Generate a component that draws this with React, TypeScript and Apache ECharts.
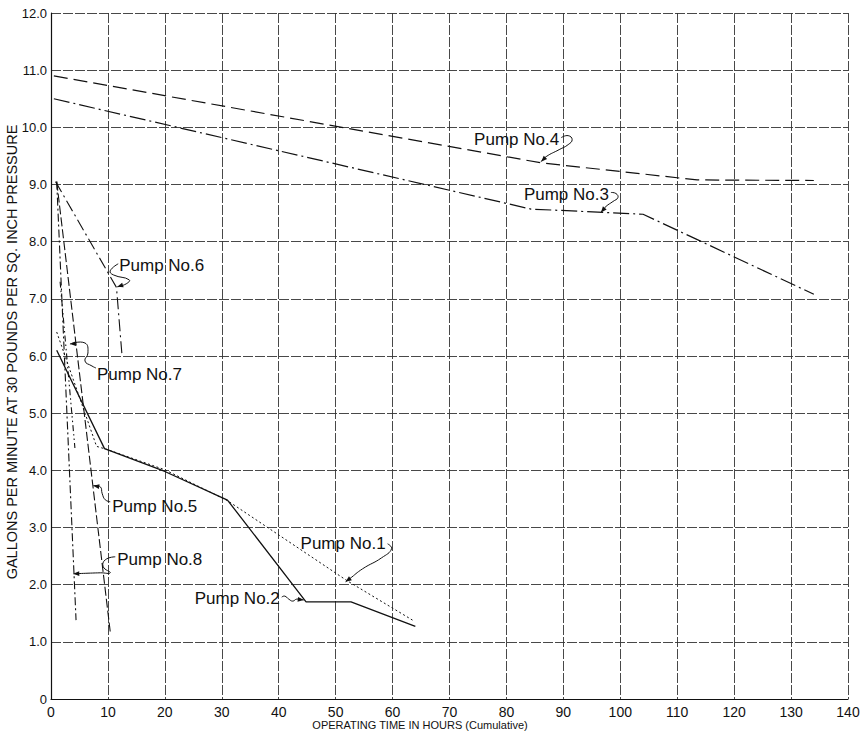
import React, { useEffect, useRef } from 'react';
import * as echarts from 'echarts';

// ---- data (hours, gallons per minute) ----
const pump1: [number, number][] = [[1.0, 6.42], [8.0, 4.42], [10, 4.36], [20, 4.01], [31, 3.47], [52, 2.07], [63.5, 1.38]];
const pump2: [number, number][] = [[1.0, 6.1], [9.4, 4.38], [20, 3.98], [31, 3.48], [44.8, 1.7], [52.7, 1.7], [64, 1.27]];
const pump3: [number, number][] = [[0.5, 10.5], [84.3, 8.57], [104, 8.48], [134, 7.08]];
const pump4: [number, number][] = [[0.5, 10.9], [86, 9.38], [113.5, 9.08], [134, 9.07]];
const pump5: [number, number][] = [[1.0, 9.05], [10.4, 1.18]];
const pump6: [number, number][] = [[0.8, 9.05], [11.5, 7.2], [12.5, 5.98]];
const pump7: [number, number][] = [[1.6, 7.3], [4.2, 4.39]];
const pump8: [number, number][] = [[1.0, 9.05], [4.4, 1.38]];

const xTickLabels = ['0', '10', '20', '30', '40', '50', '60', '70', '80', '90', '100', '110', '120', '130', '140'];
const yTickLabels = ['0', '1.0', '2.0', '3.0', '4.0', '5.0', '6.0', '7.0', '8.0', '9.0', '10.0', '11.0', '12.0'];
const xTitle = 'OPERATING TIME IN HOURS (Cumulative)';
const yTitle = 'GALLONS PER MINUTE AT 30 POUNDS PER SQ. INCH PRESSURE';

const labelNames = ['Pump No.1', 'Pump No.2', 'Pump No.3', 'Pump No.4', 'Pump No.5', 'Pump No.6', 'Pump No.7', 'Pump No.8'];
// arrow tips in data coordinates
const labelTips: [number, number][] = [[51.75, 2.05], [44.4, 1.73], [96.6, 8.51], [86.1, 9.4], [7.42, 3.73], [11.63, 7.21], [3.33, 6.21], [3.91, 2.19]];

const FONT = '"Liberation Sans", Arial, sans-serif';

// leader shapes (pixel offsets from arrow tip) and text placement
const leaders: { path: number[][]; tx: number; ty: number; align: 'left' | 'right' }[] = [
  { path: [[0, 0], [4, -3], [17, -13], [36, -24], [46, -33], [42, -38]], tx: 40, ty: -38, align: 'right' },
  { path: [[0, 0], [-7, -1], [-11, 1], [-15, -1], [-19, -4], [-22, -3]], tx: -24, ty: -2, align: 'right' },
  { path: [[0, 0], [5, -6], [12, -11], [17, -15], [15, -19], [10, -20]], tx: 8, ty: -18, align: 'right' },
  { path: [[0, 0], [5, -5], [18, -12], [27, -17], [31, -22], [27, -26], [20, -24]], tx: 18, ty: -22, align: 'right' },
  { path: [[0, 0], [7, 1], [9, 8], [12, 14], [17, 16]], tx: 19, ty: 21, align: 'left' },
  { path: [[0, 0], [9, -3], [12, -7], [-4, -12], [-7, -16], [1, -23]], tx: 2, ty: -21, align: 'left' },
  { path: [[0, 0], [15, -1], [18, 9], [15, 17], [22, 22], [26, 24]], tx: 27, ty: 31, align: 'left' },
  { path: [[0, 0], [27, -1], [37, -1], [30, -7], [32, -14], [42, -17]], tx: 44, ty: -14, align: 'left' },
];

const INK = '#111';

export default function App() {
  const ref = useRef<HTMLDivElement>(null);
  useEffect(() => {
    const chart = echarts.init(ref.current!, null, { renderer: 'svg' });
    const mk = (name: string, data: [number, number][], type: any, width = 1.1) => ({
      type: 'line', name, data, symbol: 'none', silent: true, z: 3,
      lineStyle: { color: INK, width, type },
    });
    const gridLine = { show: true, lineStyle: { color: '#333', width: 0.9, type: [10, 2] as any } };
    chart.setOption({
      animation: false,
      backgroundColor: '#fff',
      grid: { left: 51, right: 15, top: 13, bottom: 37, containLabel: false, outerBoundsMode: 'none' },
      xAxis: {
        type: 'value', min: 0, max: 140, interval: 10,
        axisLine: { show: true, lineStyle: { color: INK, width: 1.2 } },
        axisTick: { show: false },
        axisLabel: { fontFamily: FONT, fontSize: 14, color: INK, margin: 6, formatter: (v: number) => xTickLabels[Math.round(v / 10)] },
        splitLine: gridLine,
      },
      yAxis: {
        type: 'value', min: 0, max: 12, interval: 1,
        axisLine: { show: true, lineStyle: { color: INK, width: 1.2 } },
        axisTick: { show: false },
        axisLabel: { fontFamily: FONT, fontSize: 13, color: INK, margin: 4, formatter: (v: number) => yTickLabels[Math.round(v)] },
        splitLine: gridLine,
      },
      series: [
        mk('Pump No.1', pump1, [2, 2.5], 1),
        mk('Pump No.2', pump2, 'solid', 1.3),
        mk('Pump No.3', pump3, [16, 4, 2, 4], 1.2),
        mk('Pump No.4', pump4, [14, 6], 1.2),
        mk('Pump No.5', pump5, [9, 3], 1.1),
        mk('Pump No.6', pump6, [12, 4, 2, 4], 1.1),
        mk('Pump No.7', pump7, [6, 3, 1.5, 3, 1.5, 3], 1.1),
        mk('Pump No.8', pump8, [8, 3, 2, 3], 1.1),
      ],
    });

    const graphic: any[] = [
      {
        type: 'text', silent: true, x: 12, y: 352, rotation: Math.PI / 2,
        style: { text: yTitle, font: `14.5px ${FONT}`, fill: INK, align: 'center', verticalAlign: 'middle', textAlign: 'center', textVerticalAlign: 'middle' },
      },
      {
        type: 'text', silent: true, x: 420, y: 725,
        style: { text: xTitle, font: `11px ${FONT}`, fill: INK, align: 'center', verticalAlign: 'middle', textAlign: 'center', textVerticalAlign: 'middle' },
      },
    ];
    labelNames.forEach((name, i) => {
      const [px, py] = chart.convertToPixel({ gridIndex: 0 } as any, labelTips[i]) as number[];
      const L = leaders[i];
      const pts = L.path.map(([dx, dy]) => [px + dx, py + dy]);
      graphic.push({ type: 'polyline', silent: true, z: 10, shape: { points: pts, smooth: 0.5 }, style: { stroke: INK, lineWidth: 1, fill: 'none' } });
      const [ax, ay] = pts[1];
      const ang = Math.atan2(py - ay, px - ax);
      const len = 6, hw = 2.4;
      const bx = px - len * Math.cos(ang), by = py - len * Math.sin(ang);
      graphic.push({
        type: 'polygon', silent: true, z: 11,
        shape: { points: [[px, py], [bx - hw * Math.sin(ang), by + hw * Math.cos(ang)], [bx + hw * Math.sin(ang), by - hw * Math.cos(ang)]] },
        style: { fill: INK },
      });
      graphic.push({
        type: 'text', silent: true, z: 12, x: px + L.tx, y: py + L.ty,
        style: { text: name, font: `17px ${FONT}`, fill: INK, align: L.align, verticalAlign: 'middle', textAlign: L.align, textVerticalAlign: 'middle' },
      });
    });
    chart.setOption({ graphic });
    return () => chart.dispose();
  }, []);
  return <div ref={ref} style={{ position: 'fixed', left: 0, top: 0, width: 863, height: 736, background: '#fff' }} />;
}
